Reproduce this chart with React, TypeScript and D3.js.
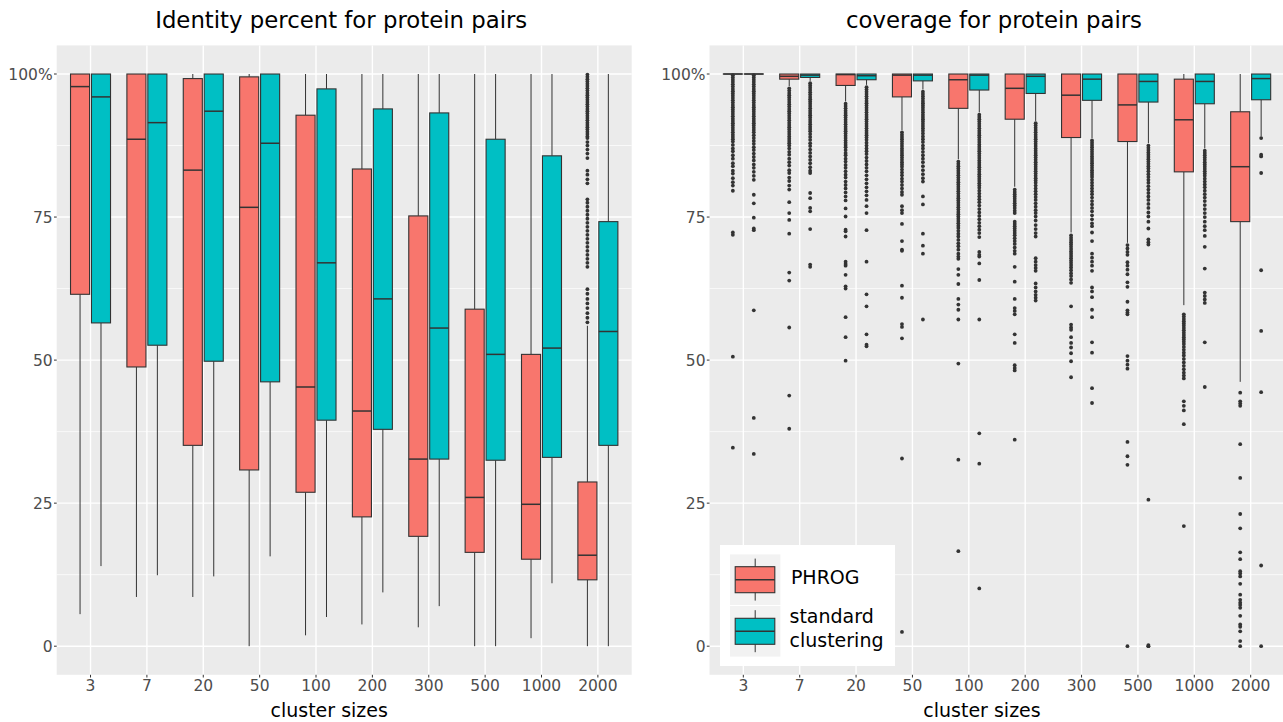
import * as d3 from "d3";

const clusterSizes = ["3", "7", "20", "50", "100", "200", "300", "500", "1000", "2000"];
const groupNames = ["PHROG", "standard clustering"];
const groupFills = ["#F8766D", "#00BFC4"];
const yTickValues = [0, 25, 50, 75, 100];
const yTickLabels = ["0", "25", "50", "75", "100%"];
const yMinorValues = [12.5, 37.5, 62.5, 87.5];

// [lower whisker, q1, median, q3, upper whisker] per cluster size
const identityPhrog = [
  [5.6, 61.5, 97.8, 100, 100],
  [8.6, 48.8, 88.6, 100, 100],
  [8.6, 35.1, 83.2, 99.2, 100],
  [0, 30.8, 76.7, 99.5, 100],
  [1.9, 26.9, 45.3, 92.8, 100],
  [3.8, 22.6, 41.1, 83.4, 100],
  [3.3, 19.2, 32.7, 75.2, 100],
  [0, 16.4, 26.0, 58.9, 100],
  [1.4, 15.2, 24.8, 51.0, 100],
  [0, 11.6, 15.9, 28.7, 56.0],
];
const identityStandard = [
  [14.0, 56.5, 96.0, 100, 100],
  [12.4, 52.6, 91.5, 100, 100],
  [12.2, 49.8, 93.5, 100, 100],
  [15.7, 46.2, 87.9, 100, 100],
  [5.1, 39.5, 67.0, 97.4, 100],
  [9.4, 37.9, 60.7, 93.9, 100],
  [7.0, 32.7, 55.6, 93.2, 100],
  [0, 32.5, 51.0, 88.6, 100],
  [11.0, 33.0, 52.1, 85.7, 100],
  [0, 35.1, 55.0, 74.2, 100],
];
const identityPhrogOutliers = [
  [], [], [], [], [], [], [], [], [],
  [99.9, 99.5, 99.1, 98.7, 98.3, 97.9, 97.5, 97.1, 96.7, 96.3, 95.9, 95.5, 95.1, 94.7, 94.3, 93.9, 93.5, 93.1, 92.7, 92.3, 91.9, 91.5, 91.1, 90.7, 90.3, 89.9, 89.5, 89.1, 88.8, 88.1, 87.5, 86.8, 86.1, 85.3, 83.1, 82.4, 81.6, 80.9, 78.1, 77.5, 76.8, 76.1, 75.4, 74.7, 74.0, 73.3, 72.6, 71.9, 71.2, 70.5, 69.8, 69.1, 68.4, 67.7, 67.0, 66.3, 62.4, 61.6, 60.7, 59.9, 59.1, 58.2, 57.4, 56.6],
];
const identityStandardOutliers = [[], [], [], [], [], [], [], [], [], []];

const coveragePhrog = [
  [100, 100, 100, 100, 100],
  [97.9, 99.1, 99.6, 100, 100],
  [95.2, 98.0, 99.9, 100, 100],
  [90.2, 96.0, 99.8, 100, 100],
  [85.1, 94.0, 99.0, 100, 100],
  [80.3, 92.1, 97.5, 100, 100],
  [72.3, 88.9, 96.3, 100, 100],
  [70.5, 88.2, 94.6, 100, 100],
  [59.6, 82.9, 92.0, 99.1, 100],
  [46.2, 74.2, 83.8, 93.4, 100],
];
const coverageStandard = [
  [100, 100, 100, 100, 100],
  [98.8, 99.4, 99.8, 100, 100],
  [98.1, 99.0, 99.7, 100, 100],
  [97.3, 98.8, 99.8, 100, 100],
  [93.3, 97.2, 99.8, 100, 100],
  [91.8, 96.6, 99.6, 100, 100],
  [88.8, 95.4, 99.1, 100, 100],
  [87.9, 95.1, 98.7, 100, 100],
  [87.0, 94.8, 98.7, 100, 100],
  [89.1, 95.5, 99.2, 100, 100],
];
const coveragePhrogOutliers = [
  [99.8, 99.4, 99.0, 98.6, 98.2, 97.8, 97.4, 97.0, 96.6, 96.2, 95.8, 95.4, 95.0, 94.6, 94.2, 93.8, 93.4, 93.0, 92.6, 92.2, 91.8, 91.4, 91.0, 90.6, 90.2, 89.8, 89.4, 89.0, 88.6, 88.2, 87.6, 87.0, 86.5, 85.8, 85.2, 84.4, 83.9, 83.1, 82.6, 81.8, 81.1, 80.5, 79.6, 72.3, 71.9, 50.6, 34.7],
  [97.5, 97.1, 96.7, 96.3, 95.9, 95.5, 95.1, 94.7, 94.3, 93.9, 93.5, 93.1, 92.7, 92.3, 91.9, 91.5, 91.1, 90.7, 90.3, 89.9, 89.5, 89.1, 88.7, 88.3, 87.9, 87.5, 87.0, 86.4, 85.9, 85.2, 84.6, 84.0, 83.2, 82.7, 81.9, 81.3, 80.5, 79.8, 77.6, 75.7, 74.5, 72.1, 65.3, 63.9, 55.7, 43.8, 38.0],
  [94.8, 94.4, 94.0, 93.6, 93.2, 92.8, 92.4, 92.0, 91.6, 91.2, 90.8, 90.4, 90.0, 89.6, 89.2, 88.8, 88.4, 88.0, 87.6, 87.2, 86.7, 86.2, 85.8, 85.2, 84.7, 84.1, 83.6, 83.0, 82.4, 81.9, 81.2, 80.6, 80.0, 79.3, 78.6, 77.9, 76.5, 75.1, 72.8, 72.5, 71.6, 67.2, 66.8, 66.5, 64.9, 62.9, 62.5, 57.5, 54.0, 49.9],
  [89.8, 89.4, 89.0, 88.6, 88.2, 87.8, 87.4, 87.0, 86.6, 86.2, 85.8, 85.4, 85.0, 84.6, 84.2, 83.8, 83.3, 82.8, 82.3, 81.7, 81.2, 80.6, 80.0, 79.4, 78.9, 76.9, 76.2, 75.7, 73.8, 70.8, 69.3, 69.1, 63.0, 60.9, 56.3, 55.8, 53.8, 32.8, 2.5],
  [84.7, 84.3, 83.9, 83.5, 83.1, 82.7, 82.3, 81.9, 81.5, 81.1, 80.7, 80.3, 79.9, 79.5, 79.1, 78.7, 78.3, 77.9, 77.5, 77.1, 76.7, 76.3, 75.9, 75.5, 75.1, 74.7, 74.3, 73.9, 73.5, 73.1, 72.6, 72.1, 71.6, 71.0, 70.4, 69.9, 69.3, 68.6, 68.1, 67.7, 65.9, 64.9, 63.3, 60.7, 59.7, 58.8, 57.1, 49.4, 32.6, 16.6],
  [79.8, 79.4, 79.0, 78.6, 78.2, 77.8, 77.4, 77.0, 76.6, 76.1, 75.7, 74.2, 73.8, 73.4, 73.0, 72.6, 72.2, 71.8, 71.3, 70.8, 70.3, 69.7, 69.1, 68.6, 66.3, 63.7, 60.7, 59.1, 58.6, 58.0, 54.5, 53.0, 49.1, 48.6, 48.2, 36.1],
  [71.8, 71.4, 71.0, 70.6, 70.2, 69.8, 69.4, 69.0, 68.6, 68.2, 67.8, 67.4, 67.0, 66.6, 66.2, 65.7, 65.2, 64.7, 64.1, 63.5, 59.4, 56.2, 55.7, 55.3, 54.0, 53.0, 52.2, 51.2, 49.8, 47.0],
  [70.1, 69.5, 68.9, 68.4, 67.1, 66.5, 65.8, 65.0, 63.6, 62.8, 60.2, 58.7, 58.3, 58.0, 50.7, 49.9, 49.2, 48.5, 35.7, 33.2, 31.7, 0],
  [58.0, 57.6, 57.2, 56.8, 56.4, 56.0, 55.6, 55.2, 54.8, 54.4, 54.0, 53.6, 53.2, 52.8, 52.3, 51.8, 51.3, 50.8, 50.2, 49.6, 49.0, 48.4, 47.8, 47.3, 46.8, 42.8, 42.0, 41.2, 38.8, 21.0],
  [44.3, 42.8, 42.4, 42.0, 35.3, 29.4, 23.1, 20.6, 16.4, 15.2, 13.1, 12.7, 12.2, 10.9, 9.0, 8.1, 7.6, 7.2, 6.7, 5.3, 3.8, 3.4, 2.6, 0.9, 0],
];
const coverageStandardOutliers = [
  [99.8, 99.4, 99.0, 98.6, 98.2, 97.8, 97.4, 97.0, 96.6, 96.2, 95.8, 95.4, 95.0, 94.6, 94.2, 93.8, 93.4, 93.0, 92.6, 92.2, 91.8, 91.4, 91.0, 90.6, 90.2, 89.8, 89.3, 88.8, 88.3, 87.8, 87.2, 86.7, 86.1, 85.5, 84.9, 84.2, 83.6, 82.9, 82.2, 81.5, 78.9, 77.4, 74.9, 73.0, 72.7, 58.7, 39.9, 33.6],
  [98.4, 98.0, 97.6, 97.2, 96.8, 96.4, 96.0, 95.6, 95.2, 94.8, 94.4, 94.0, 93.6, 93.2, 92.8, 92.4, 92.0, 91.6, 91.2, 90.8, 90.4, 90.0, 89.5, 89.0, 88.5, 87.9, 87.4, 86.8, 86.2, 85.6, 85.0, 84.4, 83.7, 83.1, 82.7, 79.2, 78.3, 76.6, 76.0, 72.9, 66.7, 66.3],
  [97.7, 97.3, 96.9, 96.5, 96.1, 95.7, 95.3, 94.9, 94.5, 94.1, 93.7, 93.3, 92.9, 92.5, 92.1, 91.7, 91.3, 90.9, 90.5, 90.1, 89.7, 89.3, 88.9, 88.5, 88.0, 87.5, 87.0, 86.5, 86.0, 85.4, 84.8, 84.2, 83.6, 83.0, 82.3, 81.6, 80.9, 80.2, 79.5, 78.8, 78.0, 76.9, 75.7, 72.7, 67.2, 61.5, 59.4, 54.5, 52.7, 52.4],
  [96.9, 96.5, 96.1, 95.7, 95.3, 94.9, 94.5, 94.1, 93.7, 93.3, 92.9, 92.5, 92.1, 91.7, 91.3, 90.9, 90.5, 90.1, 89.6, 89.1, 88.6, 88.1, 87.5, 87.0, 86.4, 85.8, 85.2, 84.6, 83.9, 83.2, 82.5, 81.8, 81.2, 78.6, 77.2, 72.1, 70.0, 68.6, 57.1],
  [92.9, 92.5, 92.1, 91.7, 91.3, 90.9, 90.5, 90.1, 89.7, 89.3, 88.9, 88.5, 88.1, 87.7, 87.3, 86.9, 86.5, 86.1, 85.7, 85.3, 84.9, 84.5, 84.1, 83.7, 83.3, 82.9, 82.5, 82.1, 81.7, 81.3, 80.9, 80.5, 80.1, 79.6, 79.1, 78.6, 78.1, 77.6, 77.0, 76.4, 75.8, 75.2, 74.6, 74.0, 73.4, 72.8, 72.2, 71.5, 68.9, 68.4, 68.1, 66.9, 64.0, 57.1, 37.2, 31.9, 10.1],
  [91.4, 91.0, 90.6, 90.2, 89.8, 89.4, 89.0, 88.6, 88.2, 87.8, 87.4, 87.0, 86.6, 86.2, 85.8, 85.4, 85.0, 84.6, 84.2, 83.8, 83.4, 83.0, 82.6, 82.2, 81.8, 81.4, 81.0, 80.5, 80.0, 79.5, 79.0, 78.5, 78.0, 77.4, 76.8, 76.2, 75.7, 75.1, 74.4, 73.6, 72.9, 72.2, 71.6, 67.8, 67.2, 66.6, 66.1, 65.6, 63.4, 62.7, 62.0, 61.4, 60.9, 60.4],
  [88.4, 88.0, 87.6, 87.2, 86.8, 86.4, 86.0, 85.6, 85.2, 84.8, 84.4, 84.0, 83.6, 83.2, 82.8, 82.4, 82.0, 81.5, 81.0, 80.5, 80.0, 79.5, 79.0, 78.4, 77.8, 77.2, 76.6, 76.0, 75.3, 74.6, 73.9, 73.4, 72.3, 70.8, 68.6, 67.9, 67.2, 66.5, 65.6, 62.7, 62.0, 61.0, 58.8, 57.5, 53.1, 51.3, 45.1, 42.5],
  [87.5, 87.1, 86.7, 86.3, 85.9, 85.5, 85.1, 84.7, 84.3, 83.9, 83.5, 83.0, 82.5, 82.0, 81.5, 81.0, 80.4, 79.8, 79.2, 78.6, 78.0, 77.3, 76.6, 75.8, 75.1, 74.2, 73.0, 71.1, 70.6, 70.2, 25.6, 0.2, 0, 0],
  [86.6, 86.2, 85.8, 85.4, 85.0, 84.6, 84.2, 83.8, 83.4, 83.0, 82.6, 82.2, 81.7, 81.2, 80.7, 80.2, 79.6, 79.0, 78.4, 77.8, 77.1, 76.4, 75.7, 75.0, 74.2, 73.4, 72.7, 71.7, 69.8, 66.0, 61.8, 61.2, 60.6, 60.0, 53.1, 45.3],
  [88.8, 85.9, 85.6, 82.7, 65.7, 55.1, 44.4, 14.1, 0],
];

const FONT = "DejaVu Sans";
const PANEL_W = 575;
const PANEL_TOP = 45.4;
const PANEL_BOTTOM = 674.8;
const INK = "#333333";

function BoxPanel({ left, title, stats, outliers, legend }) {
  const x = d3.scalePoint().domain(clusterSizes).range([left, left + PANEL_W]).padding(0.6);
  const dodge = d3.scaleBand().domain(groupNames).range([-20, 20]).paddingInner(0.09);
  const y = d3.scaleLinear().domain([-5, 105]).range([PANEL_BOTTOM, PANEL_TOP]);
  const bw = dodge.bandwidth();
  const cx = left + PANEL_W / 2;

  return (
    <g>
      <rect x={left} y={PANEL_TOP} width={PANEL_W} height={PANEL_BOTTOM - PANEL_TOP} fill="#EBEBEB" />
      {yMinorValues.map((v) => (
        <line key={"m" + v} x1={left} x2={left + PANEL_W} y1={y(v)} y2={y(v)} stroke="#fff" strokeWidth={0.7} />
      ))}
      {yTickValues.map((v) => (
        <line key={"g" + v} x1={left} x2={left + PANEL_W} y1={y(v)} y2={y(v)} stroke="#fff" strokeWidth={1.4} />
      ))}
      {clusterSizes.map((c) => (
        <line key={"v" + c} x1={x(c)} x2={x(c)} y1={PANEL_TOP} y2={PANEL_BOTTOM} stroke="#fff" strokeWidth={1.4} />
      ))}

      {groupNames.map((g, gi) =>
        clusterSizes.map((c, ci) => {
          const [lo, q1, med, q3, hi] = stats[gi][ci];
          const bx = x(c) + dodge(g);
          const mid = bx + bw / 2;
          return (
            <g key={g + c}>
              <line x1={mid} x2={mid} y1={y(hi)} y2={y(q3)} stroke={INK} strokeWidth={1} />
              <line x1={mid} x2={mid} y1={y(q1)} y2={y(lo)} stroke={INK} strokeWidth={1} />
              <rect x={bx} y={y(q3)} width={bw} height={Math.max(y(q1) - y(q3), 0.01)} fill={groupFills[gi]} stroke={INK} strokeWidth={1.1} />
              <line x1={bx} x2={bx + bw} y1={y(med)} y2={y(med)} stroke={INK} strokeWidth={1.5} />
              {outliers[gi][ci].map((v, k) => (
                <circle key={k} cx={mid} cy={y(v)} r={1.9} fill={INK} />
              ))}
            </g>
          );
        })
      )}

      {yTickValues.map((v, i) => (
        <g key={"yt" + v}>
          <line x1={left - 2.7} x2={left} y1={y(v)} y2={y(v)} stroke={INK} strokeWidth={1} />
          <text x={left - 4} y={y(v)} dy="0.36em" textAnchor="end" fontFamily={FONT} fontSize={15.5} fill="#4D4D4D">
            {yTickLabels[i]}
          </text>
        </g>
      ))}
      {clusterSizes.map((c) => (
        <g key={"xt" + c}>
          <line x1={x(c)} x2={x(c)} y1={PANEL_BOTTOM} y2={PANEL_BOTTOM + 2.7} stroke={INK} strokeWidth={1} />
          <text x={x(c)} y={691} textAnchor="middle" fontFamily={FONT} fontSize={15.5} fill="#4D4D4D">
            {c}
          </text>
        </g>
      ))}

      <text x={cx - 3} y={28} textAnchor="middle" fontFamily={FONT} fontSize={22.8} fill="#000">
        {title}
      </text>
      <text x={cx - 15} y={717} textAnchor="middle" fontFamily={FONT} fontSize={19} fill="#000">
        cluster sizes
      </text>

      {legend && <Legend />}
    </g>
  );
}

function Legend() {
  const keyTops = [554.4, 606];
  const textLines = [["PHROG"], ["standard", "clustering"]];
  return (
    <g>
      <rect x={720} y={545} width={175} height={121} fill="#fff" />
      {groupNames.map((g, i) => {
        const t = keyTops[i];
        return (
          <g key={g}>
            <rect x={730} y={t} width={50.4} height={50.6} fill="#F2F2F2" />
            <line x1={755.2} x2={755.2} y1={t + 4.2} y2={t + 46.2} stroke={INK} strokeWidth={1} />
            <rect x={735.2} y={t + 12.3} width={39.6} height={26} fill={groupFills[i]} stroke={INK} strokeWidth={1.1} />
            <line x1={735.2} x2={774.8} y1={t + 25.3} y2={t + 25.3} stroke={INK} strokeWidth={1.5} />
          </g>
        );
      })}
      <text x={790.9} y={584} fontFamily={FONT} fontSize={19} fill="#000">
        {textLines[0][0]}
      </text>
      <text x={789.5} y={623} fontFamily={FONT} fontSize={19} fill="#000">
        {textLines[1][0]}
      </text>
      <text x={789.5} y={647} fontFamily={FONT} fontSize={19} fill="#000">
        {textLines[1][1]}
      </text>
    </g>
  );
}

export default function App() {
  return (
    <svg
      width={1283}
      height={722}
      style={{ position: "absolute", left: 0, top: 0, background: "#fff" }}
    >
      <rect width={1283} height={722} fill="#fff" />
      <BoxPanel
        left={56.7}
        title="Identity percent for protein pairs"
        stats={[identityPhrog, identityStandard]}
        outliers={[identityPhrogOutliers, identityStandardOutliers]}
        legend={false}
      />
      <BoxPanel
        left={709.5}
        title="coverage for protein pairs"
        stats={[coveragePhrog, coverageStandard]}
        outliers={[coveragePhrogOutliers, coverageStandardOutliers]}
        legend={true}
      />
    </svg>
  );
}
